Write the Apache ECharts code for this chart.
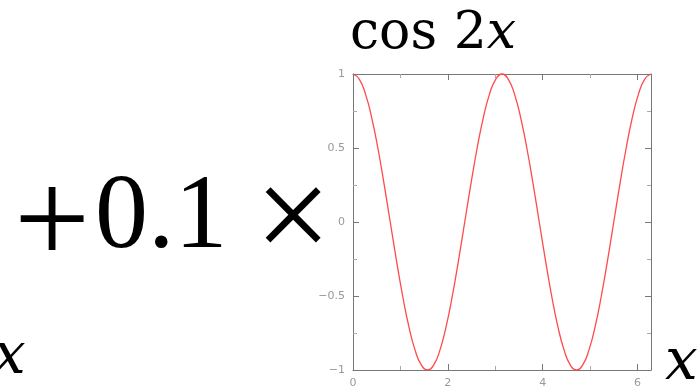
<!DOCTYPE html>
<html lang="en" style="height: 100%">
<head>
    <meta charset="UTF-8">
    <title>cos 2x</title>
    <script type="text/javascript" src="https://cdn.jsdelivr.net/npm/echarts@6/dist/echarts.min.js"></script>
</head>
<body style="height: 100%; margin: 0; background: #fff">
<div id="container" style="width: 698px; height: 392px"></div>
<script type="text/javascript">
    // sample points
    var xs = [0, 0.131, 0.262, 0.393, 0.524, 0.654, 0.785, 0.916, 1.047, 1.178, 1.309, 1.440,
        1.571, 1.702, 1.833, 1.963, 2.094, 2.225, 2.356, 2.487, 2.618, 2.749, 2.880, 3.011,
        3.142, 3.272, 3.403, 3.534, 3.665, 3.796, 3.927, 4.058, 4.189, 4.320, 4.451, 4.581,
        4.712, 4.843, 4.974, 5.105, 5.236, 5.367, 5.498, 5.629, 5.760, 5.890, 6.021, 6.152, 6.283];
    var ys = [1, 0.966, 0.866, 0.707, 0.5, 0.259, 0, -0.259, -0.5, -0.707, -0.866, -0.966,
        -1, -0.966, -0.866, -0.707, -0.5, -0.259, 0, 0.259, 0.5, 0.707, 0.866, 0.966,
        1, 0.966, 0.866, 0.707, 0.5, 0.259, 0, -0.259, -0.5, -0.707, -0.866, -0.966,
        -1, -0.966, -0.866, -0.707, -0.5, -0.259, 0, 0.259, 0.5, 0.707, 0.866, 0.966, 1];
    var xLabels = [0, 2, 4, 6];
    var yLabels = [1, 0.5, 0, -0.5, -1];

    var points = [];
    for (var i = 0; i < xs.length; i++) {
        points.push([xs[i], ys[i]]);
    }

    var axisColor = '#777';
    var labelColor = '#999';

    function xFmt(v) {
        return xLabels.indexOf(Math.round(v * 1000) / 1000) >= 0 ? String(v) : '';
    }
    function yFmt(v) {
        var r = Math.round(v * 1000) / 1000;
        if (yLabels.indexOf(r) < 0) return '';
        return r < 0 ? '\u2212' + String(-r) : String(r);
    }

    function frameAxis(pos, showLabel, fmt, extra) {
        var ax = {
            type: 'value', position: pos,
            axisLine: {onZero: false, lineStyle: {color: axisColor}},
            axisTick: {inside: true, length: 6, lineStyle: {color: axisColor}},
            minorTick: {show: true, splitNumber: 2, length: 4, lineStyle: {color: '#aaa'}},
            axisLabel: {show: showLabel, color: labelColor, fontSize: 11, margin: 8, fontFamily: 'DejaVu Sans', formatter: fmt},
            splitLine: {show: false}
        };
        for (var k in extra) ax[k] = extra[k];
        return ax;
    }

    var myChart = echarts.init(document.getElementById('container'));
    myChart.setOption({
        animation: false,
        grid: {left: 353, right: 47, top: 74, bottom: 22, containLabel: false},
        xAxis: [
            frameAxis('bottom', true, xFmt, {min: 0, max: 6.283, interval: 2}),
            frameAxis('top', false, xFmt, {min: 0, max: 6.283, interval: 2})
        ],
        yAxis: [
            frameAxis('left', true, yFmt, {min: -1, max: 1, interval: 0.5}),
            frameAxis('right', false, yFmt, {min: -1, max: 1, interval: 0.5})
        ],
        series: [{
            type: 'line',
            data: points,
            smooth: true,
            showSymbol: false,
            clip: false,
            lineStyle: {color: '#ff4a4a', width: 1.3}
        }],
        graphic: [{
            type: 'text', left: 350, top: 8,
            style: {
                text: '{n|cos 2}{i|x}',
                rich: {
                    n: {fontFamily: 'DejaVu Serif', fontSize: 52, fill: '#000'},
                    i: {fontFamily: 'DejaVu Serif', fontStyle: 'italic', fontSize: 52, fill: '#000'}
                }
            }
        }, {
            type: 'text', left: 14, top: 161,
            style: {text: '+', fontFamily: 'Liberation Serif', fontSize: 135, fill: '#000'}
        }, {
            type: 'text', left: 95, top: 166,
            style: {text: '0.1', fontFamily: 'Liberation Serif', fontSize: 106, fill: '#000'}
        }, {
            type: 'text', left: 255, top: 157,
            style: {text: '\u00d7', fontFamily: 'Liberation Serif', fontSize: 135, fill: '#000'}
        }, {
            type: 'text', left: -7, top: 329,
            style: {text: 'x', fontFamily: 'DejaVu Serif', fontStyle: 'italic', fontSize: 58, fill: '#000'}
        }, {
            type: 'text', left: 665, top: 335,
            style: {text: 'x', fontFamily: 'DejaVu Serif', fontStyle: 'italic', fontSize: 58, fill: '#000'}
        }]
    });
</script>
</body>
</html>
